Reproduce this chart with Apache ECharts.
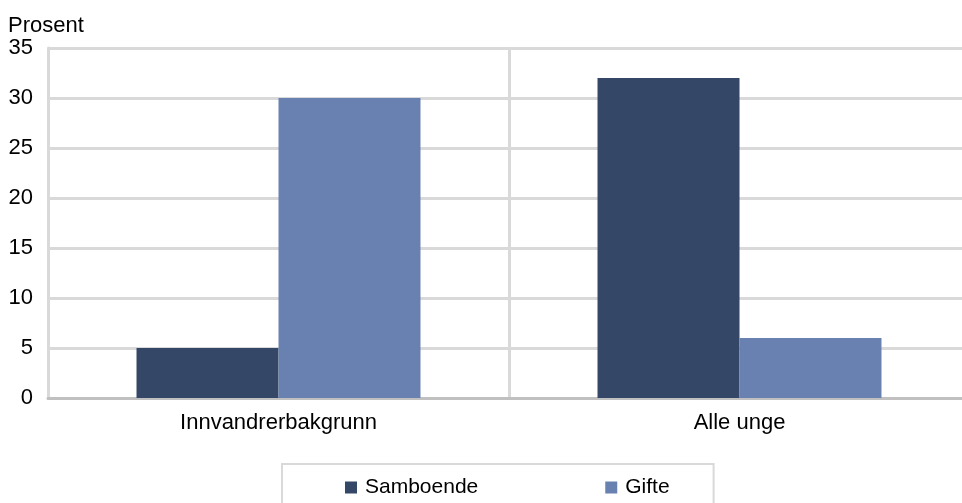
<!DOCTYPE html>
<html>
<head>
<meta charset="utf-8">
<script src="https://cdn.jsdelivr.net/npm/echarts@6/dist/echarts.min.js"></script>
<style>html,body{margin:0;padding:0;background:#fff;overflow:hidden;}#c{width:990px;height:503px;}</style>
</head>
<body>
<div id="c"></div>
<script>
const categories = ['Innvandrerbakgrunn', 'Alle unge'];
const samboende = [5, 32];
const gifte = [30, 6];
const seriesNames = ['Samboende', 'Gifte'];
const yTitle = 'Prosent';

const chart = echarts.init(document.getElementById('c'));
const font = 'Liberation Sans, Arial, sans-serif';
chart.setOption({
  animation: false,
  textStyle: { fontFamily: font },
  title: { text: yTitle, left: 8, top: 15, padding: 0, textStyle: { fontSize: 22, fontWeight: 'normal', color: '#000', fontFamily: font } },
  grid: { left: 48, top: 48, width: 922, height: 350, containLabel: false },
  legend: {
    data: seriesNames,
    left: 282, top: 464,
    orient: 'horizontal',
    icon: 'rect', itemWidth: 12, itemHeight: 12,
    itemGap: 127,
    padding: [13, 44, 20, 63],
    borderColor: '#d9d9d9', borderWidth: 2,
    textStyle: { fontSize: 21, color: '#000', fontFamily: font, padding: [0, 0, 0, 3] }
  },
  xAxis: {
    type: 'category', data: categories,
    axisLine: { show: true, lineStyle: { color: '#c0c0c0', width: 3 } },
    axisTick: { show: false },
    axisLabel: { fontSize: 22, color: '#000', margin: 14, fontFamily: font },
    splitLine: { show: true, lineStyle: { color: '#d9d9d9', width: 3 } }
  },
  yAxis: {
    type: 'value', min: 0, max: 35, interval: 5,
    axisLine: { show: true, lineStyle: { color: '#d9d9d9', width: 3 } },
    axisTick: { show: false },
    axisLabel: { fontSize: 22, color: '#000', margin: 15, fontFamily: font },
    splitLine: { show: true, lineStyle: { color: '#d9d9d9', width: 3 } }
  },
  series: [
    { name: seriesNames[0], type: 'bar', data: samboende, itemStyle: { color: '#344767' }, barGap: '0%', barCategoryGap: '38.4%' },
    { name: seriesNames[1], type: 'bar', data: gifte, itemStyle: { color: '#6981b0' }, barGap: '0%', barCategoryGap: '38.4%' }
  ]
});
</script>
</body>
</html>
